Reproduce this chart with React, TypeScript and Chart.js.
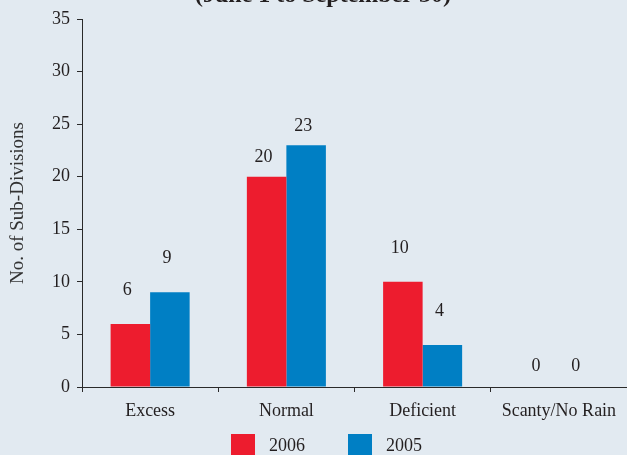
import React, { useEffect, useRef } from "react";
import { Chart, registerables } from "chart.js";

Chart.register(...registerables);

const categories = ["Excess", "Normal", "Deficient", "Scanty/No Rain"];
const series2006 = [6, 20, 10, 0];
const series2005 = [9, 23, 4, 0];
const seriesNames = ["2006", "2005"];
const yMin = 0;
const yMax = 35;
const yStep = 5;
const titleText = "(June 1 to September 30)";
const yAxisTitle = "No. of Sub-Divisions";

const BG = "#E2EAF1";
const TEXT = "#231F20";
const AXIS = "#2A2A2A";
const RED = "#ED1C2E";
const BLUE = "#007FC4";
const SERIF = '"Liberation Serif", "Times New Roman", Times, serif';

const W = 627;
const H = 469;

export default function App() {
  const ref = useRef<HTMLCanvasElement | null>(null);

  useEffect(() => {
    const canvas = ref.current;
    if (!canvas) return;

    const bgPlugin = {
      id: "bgFill",
      beforeDraw(chart: any) {
        const { ctx } = chart;
        ctx.save();
        ctx.fillStyle = BG;
        ctx.fillRect(0, 0, chart.width, chart.height);
        ctx.restore();
      },
    };

    const textPlugin = {
      id: "extraText",
      afterDraw(chart: any) {
        const { ctx, chartArea } = chart;
        ctx.save();
        // clipped top title
        ctx.fillStyle = TEXT;
        ctx.font = `bold 24px ${SERIF}`;
        ctx.textAlign = "center";
        ctx.textBaseline = "alphabetic";
        ctx.fillText(titleText, 323, 2);
        // y axis title
        ctx.fillStyle = "#333333";
        ctx.font = `19px ${SERIF}`;
        ctx.translate(18, (chartArea.top + chartArea.bottom) / 2);
        ctx.rotate(-Math.PI / 2);
        ctx.textAlign = "center";
        ctx.textBaseline = "middle";
        ctx.fillText(yAxisTitle, 0, 0);
        ctx.restore();
      },
    };

    const legendPlugin = {
      id: "bottomLegend",
      afterDraw(chart: any) {
        const { ctx } = chart;
        const startX = 231;
        const boxTop = 434;
        const box = 24;
        const gap = 14;
        const step = 117;
        ctx.save();
        ctx.font = `18px ${SERIF}`;
        ctx.textAlign = "left";
        ctx.textBaseline = "middle";
        chart.data.datasets.forEach((ds: any, i: number) => {
          const x = startX + i * step;
          ctx.fillStyle = ds.backgroundColor;
          ctx.fillRect(x, boxTop, box, box);
          ctx.fillStyle = TEXT;
          ctx.fillText(ds.label, x + box + gap, boxTop + 12);
        });
        ctx.restore();
      },
    };

    const labelLift = [34, 19, 34, 21];
    const valueLabels = {
      id: "valueLabels",
      afterDatasetsDraw(chart: any) {
        const { ctx } = chart;
        ctx.save();
        ctx.fillStyle = TEXT;
        ctx.font = `18px ${SERIF}`;
        ctx.textAlign = "center";
        ctx.textBaseline = "middle";
        chart.data.datasets.forEach((ds: any, di: number) => {
          const meta = chart.getDatasetMeta(di);
          meta.data.forEach((el: any, i: number) => {
            const v = ds.data[i];
            ctx.fillText(String(v), el.x - 3, el.y - labelLift[i]);
          });
        });
        ctx.restore();
      },
    };

    const chart = new Chart(canvas, {
      type: "bar",
      data: {
        labels: categories,
        datasets: [
          {
            label: seriesNames[0],
            data: series2006,
            backgroundColor: RED,
            borderWidth: 0,
            categoryPercentage: 0.58,
            barPercentage: 1.0,
          },
          {
            label: seriesNames[1],
            data: series2005,
            backgroundColor: BLUE,
            borderWidth: 0,
            categoryPercentage: 0.58,
            barPercentage: 1.0,
          },
        ],
      },
      options: {
        responsive: false,
        animation: false,
        devicePixelRatio: 1,
        layout: { padding: { top: 19, left: 20, right: 0, bottom: 42 } },
        plugins: {
          legend: { display: false },
          tooltip: { enabled: false },
          title: { display: false },
        },
        scales: {
          x: {
            grid: {
              display: true,
              offset: true,
              drawOnChartArea: false,
              drawTicks: true,
              tickLength: 5,
              color: AXIS,
            },
            border: { display: true, color: AXIS, width: 1 },
            ticks: {
              color: TEXT,
              font: { family: SERIF, size: 18 },
              padding: 8,
              maxRotation: 0,
              autoSkip: false,
            },
            afterFit(scale: any) {
              scale.height = 40;
            },
          },
          y: {
            min: yMin,
            max: yMax,
            grid: {
              display: true,
              drawOnChartArea: false,
              drawTicks: true,
              tickLength: 5,
              color: AXIS,
            },
            border: { display: true, color: AXIS, width: 1 },
            ticks: {
              stepSize: yStep,
              color: TEXT,
              font: { family: SERIF, size: 18 },
              padding: 7,
            },
            afterFit(scale: any) {
              scale.width = 62;
            },
          },
        },
      },
      plugins: [bgPlugin, valueLabels, textPlugin, legendPlugin],
    });

    return () => chart.destroy();
  }, []);

  return (
    <div
      style={{
        position: "fixed",
        top: 0,
        left: 0,
        width: W,
        height: 455,
        overflow: "hidden",
        background: BG,
      }}
    >
      <canvas
        ref={ref}
        width={W}
        height={H}
        style={{ display: "block", width: W, height: H }}
      />
    </div>
  );
}
